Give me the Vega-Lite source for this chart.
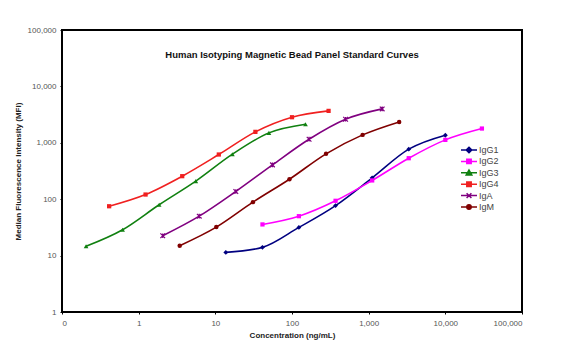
{
  "$schema": "https://vega.github.io/schema/vega-lite/v6.json",
  "width": 460,
  "height": 282,
  "autosize": {"type": "none"},
  "padding": {"left": 62, "top": 30, "right": 45, "bottom": 48},
  "background": "white",
  "title": {
    "text": "Human Isotyping Magnetic Bead Panel Standard Curves",
    "font": "Liberation Sans",
    "fontSize": 9.5,
    "fontWeight": "bold",
    "color": "#111",
    "anchor": "middle",
    "offset": -33
  },
  "config": {
    "view": {"stroke": "#000", "strokeWidth": 2},
    "axis": {
      "grid": false,
      "domain": false,
      "ticks": true,
      "tickColor": "#000",
      "tickSize": 2,
      "labelFont": "Liberation Sans",
      "labelFontSize": 8,
      "labelColor": "#555",
      "titleFont": "Liberation Sans",
      "titleFontSize": 8,
      "titleFontWeight": "bold",
      "titleColor": "#222"
    }
  },
  "data": {
    "values": [
      {"iso": "IgG1", "conc": 13.7, "mfi": 11.4},
      {"iso": "IgG1", "conc": 41.2, "mfi": 14},
      {"iso": "IgG1", "conc": 123, "mfi": 31.6},
      {"iso": "IgG1", "conc": 370, "mfi": 77},
      {"iso": "IgG1", "conc": 1111, "mfi": 239},
      {"iso": "IgG1", "conc": 3333, "mfi": 771},
      {"iso": "IgG1", "conc": 10000, "mfi": 1364},
      {"iso": "IgG2", "conc": 41.2, "mfi": 35.7},
      {"iso": "IgG2", "conc": 123, "mfi": 50},
      {"iso": "IgG2", "conc": 370, "mfi": 93.7},
      {"iso": "IgG2", "conc": 1111, "mfi": 215},
      {"iso": "IgG2", "conc": 3333, "mfi": 533},
      {"iso": "IgG2", "conc": 10000, "mfi": 1127},
      {"iso": "IgG2", "conc": 30000, "mfi": 1790},
      {"iso": "IgG3", "conc": 0.206, "mfi": 14.6},
      {"iso": "IgG3", "conc": 0.617, "mfi": 28.7},
      {"iso": "IgG3", "conc": 1.85, "mfi": 79.6},
      {"iso": "IgG3", "conc": 5.56, "mfi": 209},
      {"iso": "IgG3", "conc": 16.7, "mfi": 628},
      {"iso": "IgG3", "conc": 50, "mfi": 1500},
      {"iso": "IgG3", "conc": 150, "mfi": 2135},
      {"iso": "IgG4", "conc": 0.412, "mfi": 75},
      {"iso": "IgG4", "conc": 1.23, "mfi": 121},
      {"iso": "IgG4", "conc": 3.7, "mfi": 256},
      {"iso": "IgG4", "conc": 11.1, "mfi": 620},
      {"iso": "IgG4", "conc": 33.3, "mfi": 1563},
      {"iso": "IgG4", "conc": 100, "mfi": 2840},
      {"iso": "IgG4", "conc": 300, "mfi": 3680},
      {"iso": "IgA", "conc": 2.06, "mfi": 22.5},
      {"iso": "IgA", "conc": 6.17, "mfi": 50},
      {"iso": "IgA", "conc": 18.5, "mfi": 137},
      {"iso": "IgA", "conc": 55.6, "mfi": 406},
      {"iso": "IgA", "conc": 167, "mfi": 1158},
      {"iso": "IgA", "conc": 500, "mfi": 2618},
      {"iso": "IgA", "conc": 1500, "mfi": 3990},
      {"iso": "IgM", "conc": 3.43, "mfi": 15},
      {"iso": "IgM", "conc": 10.3, "mfi": 32},
      {"iso": "IgM", "conc": 30.9, "mfi": 88.7},
      {"iso": "IgM", "conc": 92.6, "mfi": 226},
      {"iso": "IgM", "conc": 278, "mfi": 637},
      {"iso": "IgM", "conc": 833, "mfi": 1382},
      {"iso": "IgM", "conc": 2500, "mfi": 2348}
    ]
  },
  "encoding": {
    "x": {
      "field": "conc",
      "type": "quantitative",
      "scale": {"type": "log", "domain": [0.1, 100000], "nice": false},
      "axis": {
        "title": "Concentration (ng/mL)",
        "values": [0.1, 1, 10, 100, 1000, 10000, 100000],
        "format": ",.0f",
        "labelPadding": 5,
        "titlePadding": 4
      }
    },
    "y": {
      "field": "mfi",
      "type": "quantitative",
      "scale": {"type": "log", "domain": [1, 100000], "nice": false},
      "axis": {
        "title": "Median Fluorescence Intensity (MFI)",
        "values": [1, 10, 100, 1000, 10000, 100000],
        "format": ",.0f",
        "labelPadding": 4,
        "titlePadding": 5
      }
    },
    "color": {
      "field": "iso",
      "type": "nominal",
      "scale": {
        "domain": ["IgG1", "IgG2", "IgG3", "IgG4", "IgA", "IgM"],
        "range": ["#000080", "#ff00ff", "#108010", "#f02020", "#800080", "#800000"]
      },
      "legend": {
        "title": null,
        "orient": "none",
        "legendX": 402,
        "legendY": 115,
        "padding": 0,
        "symbolSize": 64,
        "labelOffset": 5,
        "rowPadding": -0.6,
        "labelFont": "Liberation Sans",
        "labelFontSize": 9,
        "labelColor": "#444",
        "encode": {
          "symbols": {
            "update": {
              "shape": {"signal": "datum.value==='IgG1'?'M-2,0H2M0,-0.7L0.7,0L0,0.7L-0.7,0Z':datum.value==='IgG2'||datum.value==='IgG4'?'M-2,0H2M-0.55,-0.55H0.55V0.55H-0.55Z':datum.value==='IgG3'?'M-2,0H2M0,-0.7L0.7,0.55H-0.7Z':datum.value==='IgA'?'M-2,0H2M-0.6,-0.6L0.6,0.6M-0.6,0.6L0.6,-0.6':'M-2,0H2M0.55,0A0.55,0.55,0,1,1,-0.55,0A0.55,0.55,0,1,1,0.55,0'"},
              "fill": {"signal": "scale('color', datum.value)"},
              "stroke": {"signal": "scale('color', datum.value)"},
              "strokeWidth": {"value": 1.5},
              "opacity": {"value": 1}
            }
          }
        }
      }
    }
  },
  "layer": [
    {
      "mark": {"type": "line", "interpolate": "monotone", "strokeWidth": 1.6}
    },
    {
      "transform": [{"filter": "datum.iso === 'IgG1'"}],
      "mark": {"type": "point", "shape": "diamond", "filled": true, "opacity": 1, "size": 24}
    },
    {
      "transform": [{"filter": "datum.iso === 'IgG2' || datum.iso === 'IgG4'"}],
      "mark": {"type": "point", "shape": "square", "filled": true, "opacity": 1, "size": 18}
    },
    {
      "transform": [{"filter": "datum.iso === 'IgG3'"}],
      "mark": {"type": "point", "shape": "triangle-up", "filled": true, "opacity": 1, "size": 22}
    },
    {
      "transform": [{"filter": "datum.iso === 'IgA'"}],
      "mark": {"type": "point", "shape": "M-1,-1L1,1M-1,1L1,-1M0,-1L0,1", "filled": false, "opacity": 1, "size": 22, "strokeWidth": 1.2}
    },
    {
      "transform": [{"filter": "datum.iso === 'IgM'"}],
      "mark": {"type": "point", "shape": "circle", "filled": true, "opacity": 1, "size": 20}
    }
  ]
}
